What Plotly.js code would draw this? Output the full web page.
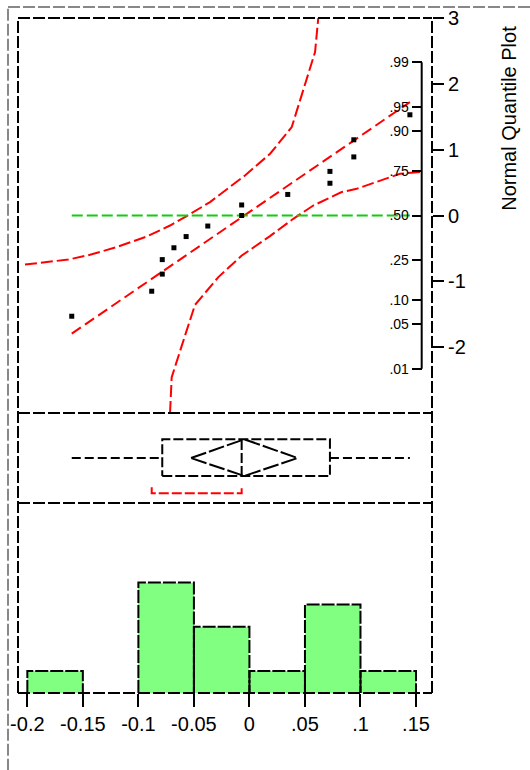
<!DOCTYPE html>
<html><head><meta charset="utf-8">
<script src="https://cdn.plot.ly/plotly-3.0.1.min.js"></script>
<style>html,body{margin:0;padding:0;background:#fff}#chart{width:530px;height:770px}</style>
</head><body><div id="chart"></div>
<script>
// ---- data ----
const values = [-0.160, -0.088, -0.0785, -0.0785, -0.068, -0.057, -0.0375, -0.007, -0.007, 0.0345, 0.0725, 0.0725, 0.094, 0.094, 0.1445];
const normalQuantiles = [-1.53, -1.15, -0.89, -0.67, -0.49, -0.32, -0.16, 0, 0.16, 0.32, 0.49, 0.67, 0.89, 1.15, 1.53];
const upperBandX = [-0.2021, -0.1631, -0.1435, -0.1195, -0.0925, -0.0715, -0.0565, -0.0355, -0.0040, 0.0186, 0.0381, 0.0591, 0.0620];
const upperBandZ = [-0.745, -0.669, -0.597, -0.480, -0.319, -0.152, -0.009, 0.204, 0.608, 0.938, 1.343, 2.483, 3.0];
const lowerBandX = [-0.0715, -0.0700, -0.0580, -0.0490, -0.0280, -0.0069, 0.0185, 0.0395, 0.0575, 0.0831, 0.0966, 0.1356, 0.1551];
const lowerBandZ = [-3.0, -2.456, -1.824, -1.357, -0.936, -0.608, -0.313, -0.050, 0.152, 0.356, 0.406, 0.634, 0.664];
const binStart = -0.2, binSize = 0.05, binCount = 7;
const xTickVals = [-0.2, -0.15, -0.1, -0.05, 0, 0.05, 0.1, 0.15];
const xTickText = ['-0.2', '-0.15', '-0.1', '-0.05', '0', '.05', '.1', '.15'];
const zTickVals = [-2, -1, 0, 1, 2, 3];
const zTickText = ['-2', '-1', '0', '1', '2', '3'];
const probTickText = ['.01', '.05', '.10', '.25', '.50', '.75', '.90', '.95', '.99'];
const probTickZ = [-2.326, -1.645, -1.282, -0.674, 0, 0.674, 1.282, 1.645, 2.326];
const tCrit = 2.1448; // t(0.975, 14)

// ---- summary statistics ----
const s = values.slice().sort((a, b) => a - b);
const n = s.length;
const mean = s.reduce((a, b) => a + b, 0) / n;
const sd = Math.sqrt(s.reduce((a, b) => a + (b - mean) * (b - mean), 0) / (n - 1));
function quant(p) {
  const pos = p * (n + 1); const lo = Math.floor(pos); const f = pos - lo;
  if (lo < 1) return s[0]; if (lo >= n) return s[n - 1];
  return s[lo - 1] + f * (s[lo] - s[lo - 1]);
}
const q1 = quant(0.25), med = quant(0.5), q3 = quant(0.75);
const iqr = q3 - q1;
const lowW = s.find(v => v >= q1 - 1.5 * iqr);
const highW = s.slice().reverse().find(v => v <= q3 + 1.5 * iqr);
const ci = tCrit * sd / Math.sqrt(n);
const k = Math.ceil(n / 2);
let shA = s[0], shB = s[k - 1];
for (let i = 0; i + k - 1 < n; i++) { if (s[i + k - 1] - s[i] < shB - shA) { shA = s[i]; shB = s[i + k - 1]; } }
const zMin = (s[0] - mean) / sd, zMax = (s[n - 1] - mean) / sd;

// histogram bar outlines (dashed), from the same bins
const counts = new Array(binCount).fill(0);
values.forEach(v => { const b = Math.floor((v - binStart) / binSize); if (b >= 0 && b < binCount) counts[b]++; });
const outX = [], outY = [];
counts.forEach((c, i) => { if (c > 0) { const l = binStart + i * binSize, r = l + binSize; outX.push(l, l, r, r, null); outY.push(0, c, c, 0, null); } });

const FONT = 'Liberation Sans, Arial, sans-serif';
const RED = '#FF0000';
const boxLo = 0.3, boxHi = 0.708, boxMid = 0.5, brY = 0.108, brTop = 0.174;

const traces = [
  // quantile plot
  {x: upperBandX, y: upperBandZ, xaxis: 'x', yaxis: 'y', mode: 'lines', line: {color: RED, width: 2, dash: '12px,4px'}, hoverinfo: 'skip'},
  {x: lowerBandX, y: lowerBandZ, xaxis: 'x', yaxis: 'y', mode: 'lines', line: {color: RED, width: 2, dash: '12px,4px'}, hoverinfo: 'skip'},
  {x: [s[0], s[n - 1]], y: [zMin, zMax], xaxis: 'x', yaxis: 'y', mode: 'lines', line: {color: RED, width: 2, dash: '11px,5px'}},
  {x: [s[0], s[n - 1]], y: [0, 0], xaxis: 'x', yaxis: 'y', mode: 'lines', line: {color: '#11CC11', width: 2, dash: '11px,4px'}},
  {x: s, y: normalQuantiles, xaxis: 'x', yaxis: 'y', mode: 'markers', marker: {symbol: 'square', size: 5, color: '#000'}},
  {x: [0], y: [0], xaxis: 'x', yaxis: 'y4', mode: 'markers', marker: {opacity: 0}, hoverinfo: 'skip'},
  // box plot
  {x: [lowW, q1, null, q3, highW], y: [boxMid, boxMid, null, boxMid, boxMid], xaxis: 'x', yaxis: 'y2', mode: 'lines', line: {color: '#000', width: 2, dash: '9px,4px'}},
  {x: [q1, q3, q3, q1, q1], y: [boxLo, boxLo, boxHi, boxHi, boxLo], xaxis: 'x', yaxis: 'y2', mode: 'lines', line: {color: '#000', width: 2, dash: '10px,3px'}},
  {x: [med, med], y: [boxLo, boxHi], xaxis: 'x', yaxis: 'y2', mode: 'lines', line: {color: '#000', width: 2, dash: '10px,3px'}},
  {x: [mean - ci, mean, mean + ci, mean, mean - ci], y: [boxMid, boxHi, boxMid, boxLo, boxMid], xaxis: 'x', yaxis: 'y2', mode: 'lines', line: {color: '#000', width: 2, dash: '16px,3px'}},
  {x: [shA, shA, shB, shB], y: [brTop, brY, brY, brTop], xaxis: 'x', yaxis: 'y2', mode: 'lines', line: {color: RED, width: 2, dash: '10px,3px'}},
  // histogram
  {type: 'histogram', x: values, xaxis: 'x', yaxis: 'y3', xbins: {start: binStart, end: binStart + binCount * binSize, size: binSize}, marker: {color: '#80FF80', line: {width: 0}}},
  {x: outX, y: outY, xaxis: 'x', yaxis: 'y3', mode: 'lines', line: {color: '#000', width: 2, dash: '13px,2px'}, hoverinfo: 'skip'}
];

const dash = '12px,3px';
const frame = (x0, y0, x1, y1, color) => ({type: 'line', xref: 'paper', yref: 'paper', x0, y0, x1, y1, line: {color: color || '#000', width: 2, dash}});
const shapes = [
  frame(0, 1, 1, 1), frame(0, 0.4148, 1, 0.4148), frame(0, 0.2815, 1, 0.2815), frame(0, 0, 1, 0),
  frame(0, 0, 0, 1), frame(1, 0, 1, 1),
  frame(-0.02415, -0.115, -0.02415, 1.0163, '#888'), frame(-0.02415, 1.0163, 1.24, 1.0163, '#888'),
  {type: 'line', xref: 'paper', yref: 'y', x0: 0.9751, x1: 0.9751, y0: probTickZ[0], y1: probTickZ[probTickZ.length - 1], line: {color: '#000', width: 2}}
];

const layout = {
  width: 530, height: 770,
  margin: {l: 18, r: 98, t: 18, b: 77, pad: 0},
  paper_bgcolor: '#fff', plot_bgcolor: '#fff',
  showlegend: false, bargap: 0,
  font: {family: FONT, color: '#000'},
  xaxis: {domain: [0, 1], range: [-0.2084, 0.1644], anchor: 'y3', tickvals: xTickVals, ticktext: xTickText,
    ticks: 'outside', ticklen: 13, tickwidth: 2, tickcolor: '#000', showline: false, showgrid: false, zeroline: false,
    tickfont: {family: FONT, size: 20, color: '#000'}},
  yaxis: {domain: [0.4148, 1], range: [-3, 3], side: 'right', anchor: 'x', tickvals: zTickVals, ticktext: zTickText,
    ticks: 'outside', ticklen: 11, tickwidth: 2, tickcolor: '#000', showline: false, showgrid: false, zeroline: false,
    tickfont: {family: FONT, size: 20, color: '#000'}},
  yaxis2: {domain: [0.2815, 0.4148], range: [0, 1], visible: false, anchor: 'x'},
  yaxis3: {domain: [0, 0.2815], range: [0, 8.6], visible: false, anchor: 'x'},
  yaxis4: {overlaying: 'y', anchor: 'free', position: 0.9751, side: 'left', range: [-3, 3],
    tickvals: probTickZ, ticktext: probTickText, ticks: 'outside', ticklen: 10, tickwidth: 2, tickcolor: '#000',
    showline: false, showgrid: false, zeroline: false, tickfont: {family: FONT, size: 14, color: '#000'}},
  shapes: shapes,
  annotations: [{text: 'Normal Quantile Plot', xref: 'paper', yref: 'paper', x: 1.186, y: 0.8507,
    xanchor: 'center', yanchor: 'middle', textangle: -90, showarrow: false, font: {family: FONT, size: 20, color: '#000'}}]
};

Plotly.newPlot('chart', traces, layout, {displayModeBar: false, staticPlot: true});
</script>
</body></html>
